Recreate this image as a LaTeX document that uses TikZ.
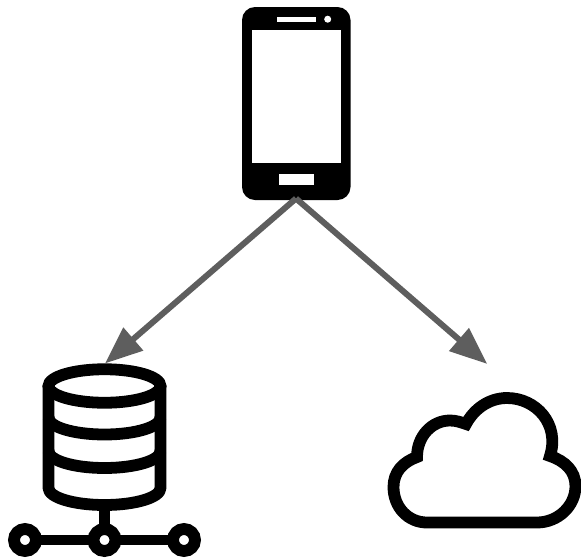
\documentclass[tikz,border=0pt]{standalone}
\usetikzlibrary{arrows.meta}
\definecolor{arrowgrey}{HTML}{5E5E5E}
\tikzset{
  icon/.style={draw=black,line width=11.8pt,line join=miter,line cap=butt},
  phonepart/.style={fill=white,inner sep=0pt,outer sep=0pt,draw=none},
  flow/.style={draw=arrowgrey,line width=6pt,-{Triangle[length=37.5pt,width=29pt,fill=arrowgrey]}}
}
\begin{document}
\begin{tikzpicture}[x=1pt,y=-1pt]
\useasboundingbox (0,0) rectangle (581,558);
% phone
\node[fill=black,rounded corners=13pt,inner sep=0pt,outer sep=0pt,minimum width=108.5pt,minimum height=193pt] (phone) at (296.25,103.5) {};
\node[phonepart,minimum width=88.7pt,minimum height=133pt] (screen) at (296.35,96.5) {};
\node[phonepart,minimum width=39pt,minimum height=4.5pt] (speaker) at (296.5,19.25) {};
\node[phonepart,circle,minimum size=7pt] (camera) at (327.7,19.2) {};
\node[phonepart,minimum width=35pt,minimum height=11pt] (homekey) at (296.5,179.5) {};
% database
\draw[icon] (104.5,386) ellipse [x radius=56pt,y radius=16.75pt];
\draw[icon,line join=round] (48.5,386) -- (48.5,488) .. controls +(0,9.4) and +(-31,0) .. ++(56,17) .. controls +(31,0) and +(0,9.4) .. ++(56,-17) -- (160.5,386);
\foreach \yy in {417.5,451}
  \draw[icon] (48.5,\yy) .. controls +(0,9.4) and +(-31,0) .. ++(56,17) .. controls +(31,0) and +(0,9.4) .. ++(56,-17);
\draw[icon,line width=10.5pt] (104.5,505) -- (104.5,540);
\draw[icon,line width=10.5pt] (25,540) -- (184,540);
\foreach \xx in {25,104.5,184}
  \draw[icon,fill=white] (\xx,540) circle [radius=11pt];
% cloud
\draw[icon] (427,522.5) -- (537,522.5)
  .. controls (558,522.5) and (575.5,506) .. (575.5,486)
  .. controls (575.5,471) and (565,461) .. (550,456)
  .. controls (560,424) and (536,398) .. (507,398)
  .. controls (489,398) and (474,409) .. (466,424)
  .. controls (460,422) and (456,420.5) .. (450,420.5)
  .. controls (432,420.5) and (417,436) .. (417,457)
  .. controls (403,462) and (393.5,472) .. (393.5,487)
  .. controls (393.5,507) and (408,522.5) .. (427,522.5) -- cycle;
% connectors
\coordinate (phoneport) at (296,198.5);
\coordinate (dbin) at (105,363.5);
\coordinate (cloudin) at (487.3,364);
\draw[flow] (phoneport) -- (dbin);
\draw[flow] (phoneport) -- (cloudin);
\end{tikzpicture}
\end{document}
